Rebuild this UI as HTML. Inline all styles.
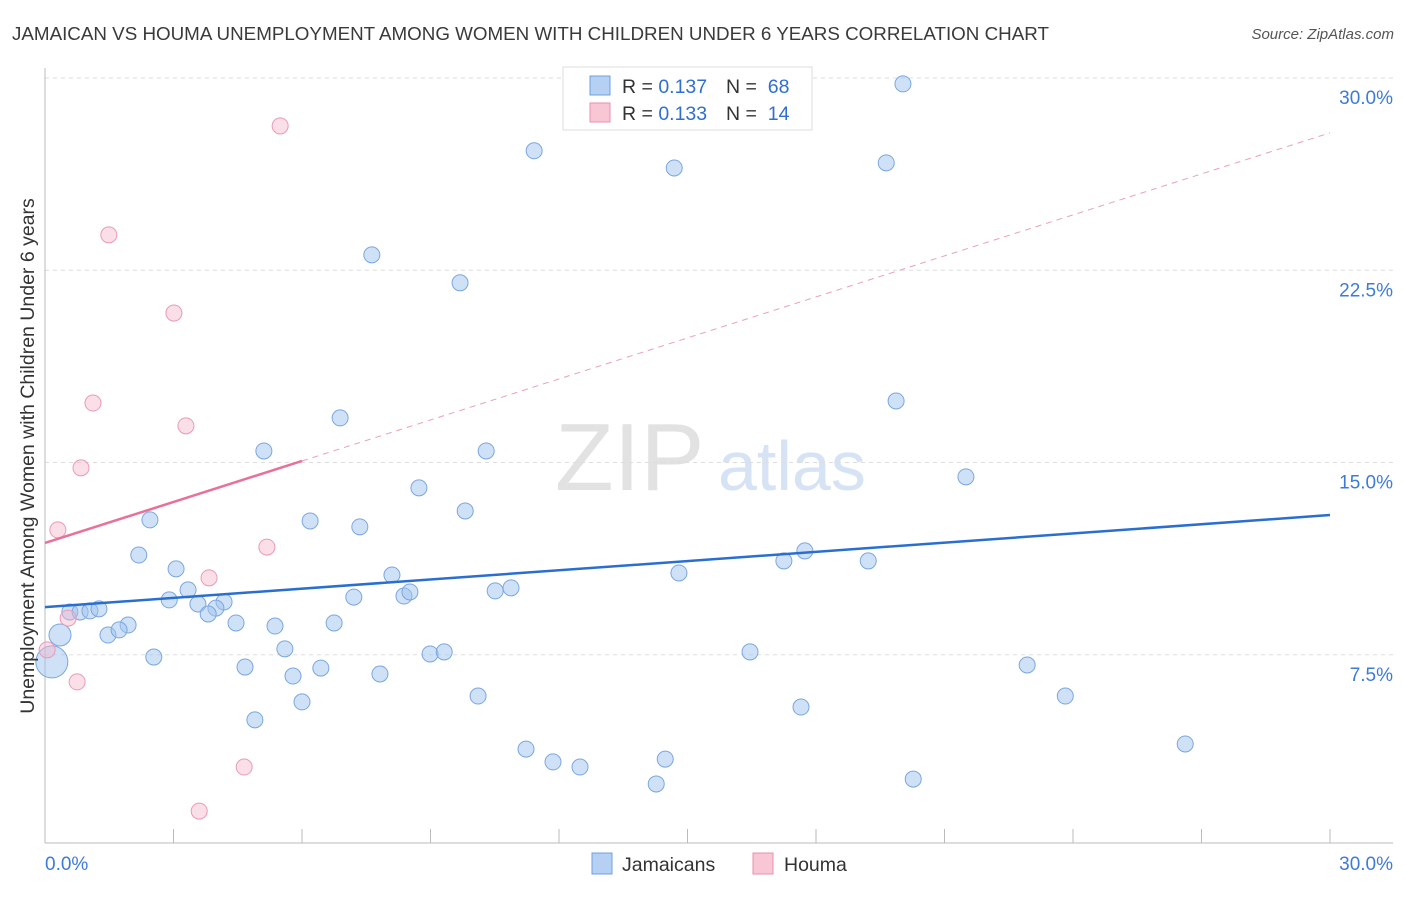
<!DOCTYPE html>
<html><head><meta charset="utf-8">
<style>
body{margin:0;background:#fff;font-family:"Liberation Sans",sans-serif;}
svg text{font-family:"Liberation Sans",sans-serif;}
</style></head>
<body>
<svg id="chart" width="1406" height="892" viewBox="0 0 1406 892" xmlns="http://www.w3.org/2000/svg">
<text x="12" y="40" font-size="18.8" fill="#3a3a3a">JAMAICAN VS HOUMA UNEMPLOYMENT AMONG WOMEN WITH CHILDREN UNDER 6 YEARS CORRELATION CHART</text>
<text x="1394" y="39" font-size="15" fill="#555" text-anchor="end" font-style="italic">Source: ZipAtlas.com</text>
<text x="555" y="490" font-size="96" fill="#e2e2e2" font-family="Liberation Serif">ZIP</text>
<text x="718" y="490" font-size="70" fill="#d6e3f4">atlas</text>
<g id="grid"></g>
<g id="axes"></g>
<g id="marks"></g>
<text transform="translate(34,456) rotate(-90)" font-size="19.5" fill="#333" text-anchor="middle">Unemployment Among Women with Children Under 6 years</text>
<g>
<rect x="563" y="67" width="249" height="63" fill="#fff" stroke="#ddd"/>
<rect x="590" y="76" width="20" height="19" fill="#b5d0f2" stroke="#6fa0dc"/>
<text x="622" y="93" font-size="19.5" fill="#333" xml:space="preserve">R = <tspan fill="#2f6fd1">0.137</tspan></text>
<text x="726" y="93" font-size="19.5" fill="#333" xml:space="preserve">N =  <tspan fill="#2f6fd1">68</tspan></text>
<rect x="590" y="103" width="20" height="19" fill="#f8c6d5" stroke="#e890ab"/>
<text x="622" y="120" font-size="19.5" fill="#333" xml:space="preserve">R = <tspan fill="#2f6fd1">0.133</tspan></text>
<text x="726" y="120" font-size="19.5" fill="#333" xml:space="preserve">N =  <tspan fill="#2f6fd1">14</tspan></text>
</g>
<g>
<rect x="592" y="853" width="20" height="21" fill="#b5d0f2" stroke="#6fa0dc"/>
<text x="622" y="871" font-size="19.5" fill="#333">Jamaicans</text>
<rect x="753" y="853" width="20" height="21" fill="#f8c6d5" stroke="#e890ab"/>
<text x="784" y="871" font-size="19.5" fill="#333">Houma</text>
</g>
</svg>
<script>
const yTicks=[7.5,15,22.5,30];
const yTickLabels=["7.5%","15.0%","22.5%","30.0%"];
const xTickVals=[0,3,6,9,12,15,18,21,24,27,30];
const blueX=[20.03,11.42,14.69,19.64,7.63,9.69,19.87,6.89,5.11,10.30,21.50,8.73,9.81,6.19,2.45,7.35,2.19,17.74,17.25,19.22,3.06,8.10,14.80,3.34,10.51,10.88,7.21,8.38,8.52,2.90,3.57,4.18,3.99,0.58,0.82,1.05,1.26,3.81,1.94,4.46,5.37,6.75,0.35,1.47,1.73,5.60,2.54,8.99,9.32,16.46,0.16,4.67,6.44,5.79,7.82,22.93,10.11,6.00,23.82,17.65,4.90,11.23,26.62,11.86,14.48,12.49,20.27,14.27];
const blueY=[29.77,27.16,26.49,26.69,23.10,22.01,17.40,16.74,15.45,15.45,14.44,14.01,13.11,12.72,12.76,12.49,11.39,11.55,11.16,11.16,10.85,10.61,10.69,10.03,9.99,10.11,9.75,9.79,9.95,9.64,9.48,9.56,9.32,9.17,9.17,9.21,9.29,9.09,8.66,8.74,8.62,8.74,8.27,8.27,8.47,7.73,7.41,7.53,7.61,7.61,7.22,7.02,6.98,6.67,6.75,7.10,5.89,5.66,5.89,5.46,4.96,3.82,4.02,3.32,3.43,3.12,2.65,2.46];
const pinkX=[5.49,1.49,3.01,1.12,3.29,0.84,0.30,5.18,3.83,0.54,0.05,0.75,4.65,3.60];
const pinkY=[28.13,23.88,20.83,17.32,16.43,14.79,12.37,11.70,10.50,8.93,7.69,6.44,3.12,1.40];
const blueTrend=[9.36,12.95];
const pinkTrend=[11.86,27.86];
const pinkSolidEnd=6;

const NS="http://www.w3.org/2000/svg";
const X0=45,X1=1330,Y0=847,Y30=78;
const sx=v=>X0+(X1-X0)*v/30;
const sy=v=>Y0-(Y0-Y30)*v/30;
function mk(tag,attrs,parent){const e=document.createElementNS(NS,tag);for(const k in attrs)e.setAttribute(k,attrs[k]);parent.appendChild(e);return e;}
const grid=document.getElementById('grid'),axes=document.getElementById('axes'),marks=document.getElementById('marks');
yTicks.forEach((t,i)=>{
  const l=mk('line',{x1:45,x2:1393,y1:sy(t),y2:sy(t),stroke:'#ddd','stroke-dasharray':'4,4'},grid);
  
  
  const tx=mk('text',{x:1393,y:sy(t)+26,'font-size':19,fill:'#3d7bd9','text-anchor':'end'},grid);
  tx.textContent=yTickLabels[i];
  
  
});
const ax=mk('line',{x1:45,x2:45,y1:68,y2:843,stroke:'#bbb'},axes);


const bx=mk('line',{x1:45,x2:1393,y1:843,y2:843,stroke:'#bbb'},axes);


xTickVals.forEach(v=>{
  const t=mk('line',{x1:sx(v),x2:sx(v),y1:829,y2:843,stroke:'#bbb'},axes);
  
  
});
const xl0=mk('text',{x:45,y:870,'font-size':19,fill:'#3d7bd9'},axes);xl0.textContent='0.0%';


const xl1=mk('text',{x:1393,y:870,'font-size':19,fill:'#3d7bd9','text-anchor':'end'},axes);xl1.textContent='30.0%';



blueX.forEach((x,i)=>{
  const r=i===50?16:(i===42?11:8);
  const c=mk('circle',{cx:sx(x),cy:sy(blueY[i]),r:r,fill:'rgba(160,195,240,0.5)',stroke:'#7aa7de','stroke-width':1},marks);
  
  
});
pinkX.forEach((x,i)=>{
  const c=mk('circle',{cx:sx(x),cy:sy(pinkY[i]),r:8,fill:'rgba(245,185,205,0.45)',stroke:'#eb9ab4','stroke-width':1},marks);
  
  
});
const bl=mk('line',{x1:sx(0),y1:sy(blueTrend[0]),x2:sx(30),y2:sy(blueTrend[1]),stroke:'#2a6fd0','stroke-width':2.5},marks);


const pAt=v=>pinkTrend[0]+(pinkTrend[1]-pinkTrend[0])*v/30;
const pl=mk('line',{x1:sx(0),y1:sy(pAt(0)),x2:sx(pinkSolidEnd),y2:sy(pAt(pinkSolidEnd)),stroke:'#e8709a','stroke-width':2.5},marks);


const pd=mk('line',{x1:sx(pinkSolidEnd),y1:sy(pAt(pinkSolidEnd)),x2:sx(30),y2:sy(pAt(30)),stroke:'#eaa0b8','stroke-width':1,'stroke-dasharray':'6,5'},marks);


</script>
</body></html>
